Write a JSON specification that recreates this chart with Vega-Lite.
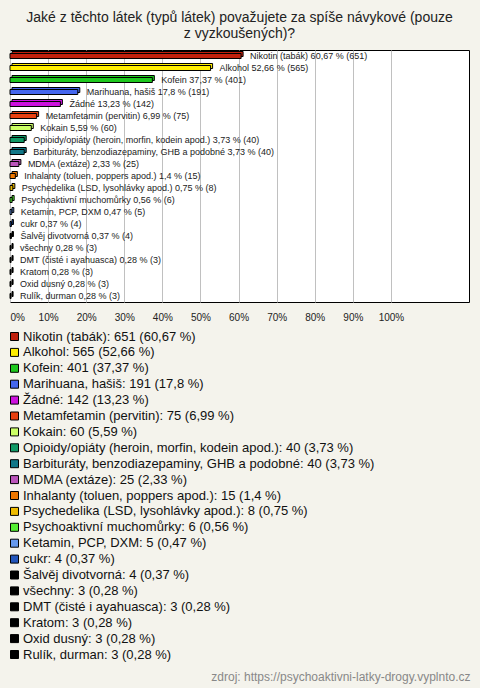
{
  "$schema": "https://vega.github.io/schema/vega-lite/v6.json",
  "autosize": {"type": "none"},
  "width": 459,
  "height": 252,
  "padding": {"left": 10, "top": 50, "right": 11, "bottom": 386},
  "background": "#f4f3ec",
  "config": {
    "font": "Liberation Sans",
    "view": {"fill": "white", "stroke": "black", "strokeWidth": 1}
  },
  "title": {
    "text": ["Jaké z těchto látek (typů látek) považujete za spíše návykové (pouze", "z vyzkoušených)?"],
    "fontSize": 14,
    "fontWeight": "normal",
    "color": "#222222",
    "lineHeight": 16,
    "offset": 9,
    "anchor": "middle"
  },
  "data": {
    "values": [
      {"order": 1, "name": "Nikotin (tabák)", "count": 651, "pct": 60.67},
      {"order": 2, "name": "Alkohol", "count": 565, "pct": 52.66},
      {"order": 3, "name": "Kofein", "count": 401, "pct": 37.37},
      {"order": 4, "name": "Marihuana, hašiš", "count": 191, "pct": 17.8},
      {"order": 5, "name": "Žádné", "count": 142, "pct": 13.23},
      {"order": 6, "name": "Metamfetamin (pervitin)", "count": 75, "pct": 6.99},
      {"order": 7, "name": "Kokain", "count": 60, "pct": 5.59},
      {"order": 8, "name": "Opioidy/opiáty (heroin, morfin, kodein apod.)", "count": 40, "pct": 3.73},
      {"order": 9, "name": "Barbituráty, benzodiazepaminy, GHB a podobné", "count": 40, "pct": 3.73},
      {"order": 10, "name": "MDMA (extáze)", "count": 25, "pct": 2.33},
      {"order": 11, "name": "Inhalanty (toluen, poppers apod.)", "count": 15, "pct": 1.4},
      {"order": 12, "name": "Psychedelika (LSD, lysohlávky apod.)", "count": 8, "pct": 0.75},
      {"order": 13, "name": "Psychoaktivní muchomůrky", "count": 6, "pct": 0.56},
      {"order": 14, "name": "Ketamin, PCP, DXM", "count": 5, "pct": 0.47},
      {"order": 15, "name": "cukr", "count": 4, "pct": 0.37},
      {"order": 16, "name": "Šalvěj divotvorná", "count": 4, "pct": 0.37},
      {"order": 17, "name": "všechny", "count": 3, "pct": 0.28},
      {"order": 18, "name": "DMT (čisté i ayahuasca)", "count": 3, "pct": 0.28},
      {"order": 19, "name": "Kratom", "count": 3, "pct": 0.28},
      {"order": 20, "name": "Oxid dusný", "count": 3, "pct": 0.28},
      {"order": 21, "name": "Rulík, durman", "count": 3, "pct": 0.28}
    ]
  },
  "transform": [
    {"calculate": "replace(toString(datum.pct), '.', ',')", "as": "pctStr"},
    {"calculate": "datum.name + ' ' + datum.pctStr + ' % (' + datum.count + ')'", "as": "barLabel"},
    {"calculate": "datum.name + ': ' + datum.count + ' (' + datum.pctStr + ' %)'", "as": "legendLabel"}
  ],
  "encoding": {
    "y": {
      "field": "name",
      "type": "nominal",
      "sort": {"field": "order"},
      "scale": {"paddingInner": 0, "paddingOuter": 0},
      "axis": null
    },
    "x": {
      "field": "pct",
      "type": "quantitative",
      "scale": {"domain": [0, 120.5], "nice": false, "zero": true},
      "axis": {
        "values": [0, 10, 20, 30, 40, 50, 60, 70, 80, 90, 100],
        "labelExpr": "datum.value + '%'",
        "labelFontSize": 10,
        "labelColor": "#222222",
        "labelPadding": 10,
        "labelFlush": true,
        "domain": false,
        "ticks": false,
        "grid": true,
        "gridColor": "#c0c0c0",
        "gridWidth": 1,
        "title": "zdroj: https://psychoaktivni-latky-drogy.vyplnto.cz",
        "titleFontSize": 12,
        "titleFontWeight": "normal",
        "titleColor": "#888888",
        "titleAlign": "right",
        "titleAnchor": "end",
        "titleBaseline": "alphabetic",
        "titleX": 460,
        "titleY": 378
      }
    }
  },
  "layer": [
    {
      "mark": {"type": "bar", "size": 5, "xOffset": 2, "yOffset": -2, "stroke": "black", "strokeWidth": 1},
      "encoding": {
        "color": {
          "field": "legendLabel",
          "type": "nominal",
          "sort": {"field": "order"},
          "scale": {"range": ["#c0200c", "#ffee00", "#1ec81e", "#4466ee", "#cc11dd", "#e84010", "#ccff66", "#119966", "#117788", "#bb55bb", "#ee7700", "#eebb00", "#55ee33", "#6699ee", "#2255bb", "#000000", "#000000", "#000000", "#000000", "#000000", "#000000"]},
          "legend": {
            "orient": "none",
            "legendX": -2,
            "legendY": 280,
            "title": null,
            "direction": "vertical",
            "symbolType": "square",
            "symbolSize": 64,
            "symbolStrokeColor": "black",
            "symbolStrokeWidth": 1,
            "labelFontSize": 13,
            "labelColor": "#111111",
            "labelLimit": 0,
            "labelOffset": 2,
            "rowPadding": 1.9,
            "padding": 0,
            "symbolLimit": 0
          }
        }
      }
    },
    {
      "mark": {"type": "bar", "size": 5, "stroke": "black", "strokeWidth": 1},
      "encoding": {
        "color": {"field": "legendLabel", "type": "nominal", "sort": {"field": "order"}}
      }
    },
    {
      "mark": {"type": "text", "align": "left", "baseline": "middle", "dx": 9, "fontSize": 9, "color": "#222222"},
      "encoding": {"text": {"field": "barLabel"}}
    }
  ]
}
